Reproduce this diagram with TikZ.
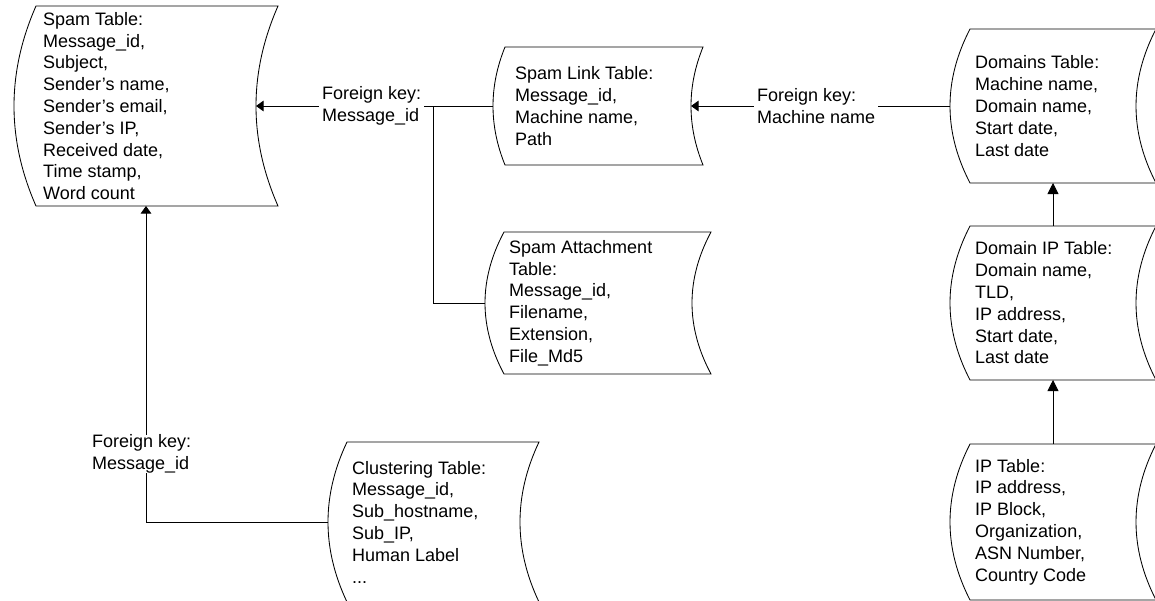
\documentclass[tikz,border=0pt]{standalone}
\usepackage{fontspec}
\setmainfont{Liberation Sans}
\usetikzlibrary{arrows.meta,calc}

\tikzset{
  store/.style={draw=black, line width=0.85pt, fill=white},
  tabletext/.style={anchor=west, align=left, inner sep=0pt,
    font=\fontsize{18}{21.8}\selectfont},
  keylabel/.style={anchor=west, align=left, fill=white, inner xsep=3pt,
    inner ysep=0pt, font=\fontsize{18}{21.8}\selectfont},
  link/.style={draw=black, line width=0.85pt},
  fk/.style={link, -{Triangle[length=7.5pt,width=10.5pt]}},
  fkbig/.style={link, -{Triangle[length=11pt,width=11pt]}},
}

% Stored-data outline: straight top and bottom, both sides arcs bowing left.
% #1 name, #2 left x, #3 top y, #4 right x, #5 bottom y, #6 arc depth
\newcommand\datastore[6]{%
  \coordinate (#1-nw) at (#2,#3);
  \coordinate (#1-ne) at (#4,#3);
  \coordinate (#1-sw) at (#2,#5);
  \coordinate (#1-se) at (#4,#5);
  \coordinate (#1-l) at ({#2-#6},{(#3+#5)/2});
  \coordinate (#1-r) at ({#4-#6},{(#3+#5)/2});
  \coordinate (#1-n) at ({(#2-#6+#4)/2},#3);
  \coordinate (#1-s) at ({(#2-#6+#4)/2},#5);
  \draw[store] (#1-nw)
    .. controls ({#2-4*#6/3},{#3+(#5-#3)/3}) and ({#2-4*#6/3},{#5-(#5-#3)/3}) .. (#1-sw)
    -- (#1-se)
    .. controls ({#4-4*#6/3},{#5-(#5-#3)/3}) and ({#4-4*#6/3},{#3+(#5-#3)/3}) .. (#1-ne)
    -- cycle;
}

\begin{document}
\begin{tikzpicture}[x=1pt,y=-1pt]
  \useasboundingbox (0,0) rectangle (1155,600);
  \fill[white] (0,0) rectangle (1155,600);
  \clip (0,0) rectangle (1155,600);

  % tables
  \datastore{st}{36}{6}{278}{206}{22}
  \datastore{link}{505}{47}{703}{165}{12}
  \datastore{att}{504}{232}{711}{374}{19}
  \datastore{clu}{347}{442}{539}{602}{19}
  \datastore{dom}{970}{29}{1156}{183}{20}
  \datastore{dip}{970}{226}{1156}{380}{20}
  \datastore{ip}{970}{444}{1156}{600}{20}

  \node[tabletext] (st-t) at (43,106) {Spam Table:\\Message\_id,\\Subject,\\Sender’s name,\\Sender’s email,\\Sender’s IP,\\Received date,\\Time stamp,\\Word count};
  \node[tabletext] (link-t) at (515,106) {Spam Link Table:\\Message\_id,\\Machine name,\\Path};
  \node[tabletext] (att-t) at (509,303) {Spam Attachment\\Table:\\Message\_id,\\Filename,\\Extension,\\File\_Md5};
  \node[tabletext] (clu-t) at (352,522) {Clustering Table:\\Message\_id,\\Sub\_hostname,\\Sub\_IP,\\Human Label\\...};
  \node[tabletext] (dom-t) at (975,106) {Domains Table:\\Machine name,\\Domain name,\\Start date,\\Last date};
  \node[tabletext] (dip-t) at (975,303) {Domain IP Table:\\Domain name,\\TLD,\\IP address,\\Start date,\\Last date};
  \node[tabletext] (ip-t) at (975,522) {IP Table:\\IP address,\\IP Block,\\Organization,\\ASN Number,\\Country Code};

  % foreign-key links
  \coordinate (j) at (433,106);
  \draw[fk] (link-l) -- (st-r);
  \draw[link] (att-l) -| (j);
  \draw[fk] (dom-l) -- (link-r);
  \draw[fkbig] (dip-n) -- (dom-s);
  \draw[fkbig] (ip-n) -- (dip-s);
  \draw[fk] (clu-l) -| (st-s);

  \node[keylabel] (k1) at (319,106) {Foreign key:\\Message\_id};
  \node[keylabel] (k2) at (754,106) {Foreign key:\\Machine name};
  \node[keylabel] (k3) at (89,454) {Foreign key:\\Message\_id};
\end{tikzpicture}
\end{document}
